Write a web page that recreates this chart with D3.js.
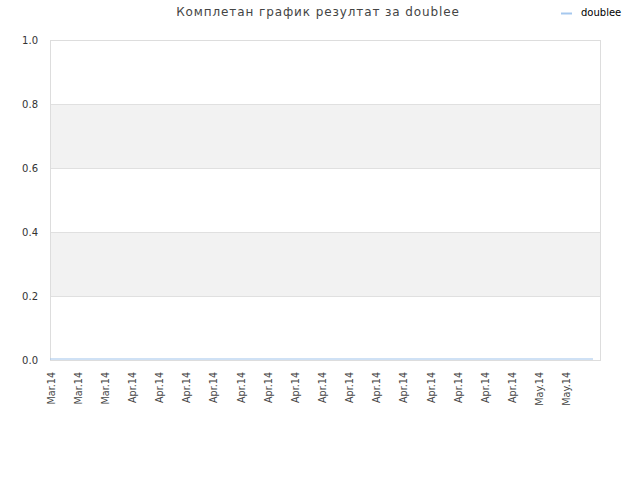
<!DOCTYPE html>
<html>
<head>
<meta charset="utf-8">
<script src="https://cdn.jsdelivr.net/npm/d3@7"></script>
<style>
  body { margin: 0; background: #fff; }
  text { font-family: "DejaVu Sans", sans-serif; }
</style>
</head>
<body>
<script>
const title = "Комплетан график резултат за doublee";
const seriesName = "doublee";
// one label per tick; the last data point has no label
const tickLabels = ["Mar.14", "Mar.14", "Mar.14",
  "Apr.14", "Apr.14", "Apr.14", "Apr.14", "Apr.14", "Apr.14", "Apr.14", "Apr.14",
  "Apr.14", "Apr.14", "Apr.14", "Apr.14", "Apr.14", "Apr.14", "Apr.14",
  "May.14", "May.14"];
const values = [0, 0, 0, 0, 0, 0, 0, 0, 0, 0, 0, 0, 0, 0, 0, 0, 0, 0, 0, 0, 0];
const yTicks = [0, 0.2, 0.4, 0.6, 0.8, 1.0];

function main() {
  const width = 640, height = 480;
  const left = 50, right = 600, top = 40, bottom = 360;

  const svg = d3.select("body")
    .append("svg")
    .attr("width", width)
    .attr("height", height);

  const x = d3.scaleLinear().domain([0, values.length - 1]).range([left, 593]);
  const y = d3.scaleLinear().domain([0, 1]).range([bottom, top]);

  // alternating bands
  const bands = d3.pairs(yTicks).filter((d, i) => i % 2 == 1);
  svg.append("g")
    .selectAll("rect")
    .data(bands)
    .join("rect")
    .attr("x", left)
    .attr("width", right - left)
    .attr("y", d => y(d[1]))
    .attr("height", d => y(d[0]) - y(d[1]))
    .attr("fill", "#f2f2f2");

  // grid lines
  svg.append("g")
    .selectAll("line")
    .data(yTicks)
    .join("line")
    .attr("x1", left)
    .attr("x2", right)
    .attr("y1", d => y(d) + 0.5)
    .attr("y2", d => y(d) + 0.5)
    .attr("stroke", "#e0e0e0");

  svg.append("rect")
    .attr("x", left + 0.5)
    .attr("y", top + 0.5)
    .attr("width", right - left)
    .attr("height", bottom - top)
    .attr("fill", "none")
    .attr("stroke", "#dddddd");

  // y labels
  svg.append("g")
    .selectAll("text")
    .data(yTicks)
    .join("text")
    .attr("x", 38)
    .attr("y", d => y(d) + 4)
    .attr("text-anchor", "end")
    .attr("font-size", 10)
    .attr("fill", "#333")
    .text(d => d.toFixed(1));

  // x labels, rotated
  svg.append("g")
    .selectAll("text")
    .data(tickLabels)
    .join("text")
    .attr("transform", (d, i) => `translate(${x(i) + 4.5},${372}) rotate(-90)`)
    .attr("text-anchor", "end")
    .attr("font-size", 9.6)
    .attr("fill", "#444")
    .text(d => d);

  // series line
  const line = d3.line()
    .x((d, i) => x(i))
    .y(d => y(d) - 1);

  svg.append("path")
    .datum(values)
    .attr("d", line)
    .attr("fill", "none")
    .attr("stroke", "#9fc4ec")
    .attr("stroke-width", 1.2);

  // title
  svg.append("text")
    .attr("x", 318)
    .attr("y", 16)
    .attr("text-anchor", "middle")
    .attr("font-size", 12)
    .attr("fill", "#444")
    .attr("letter-spacing", 0.9)
    .text(title);

  // legend
  svg.append("line")
    .attr("x1", 561).attr("x2", 572)
    .attr("y1", 13.5).attr("y2", 13.5)
    .attr("stroke", "#a6c8ee")
    .attr("stroke-width", 2);
  svg.append("text")
    .attr("x", 581)
    .attr("y", 16)
    .attr("font-size", 10)
    .attr("fill", "#000")
    .text(seriesName);
}

window.addEventListener("load", main);
</script>
</body>
</html>
